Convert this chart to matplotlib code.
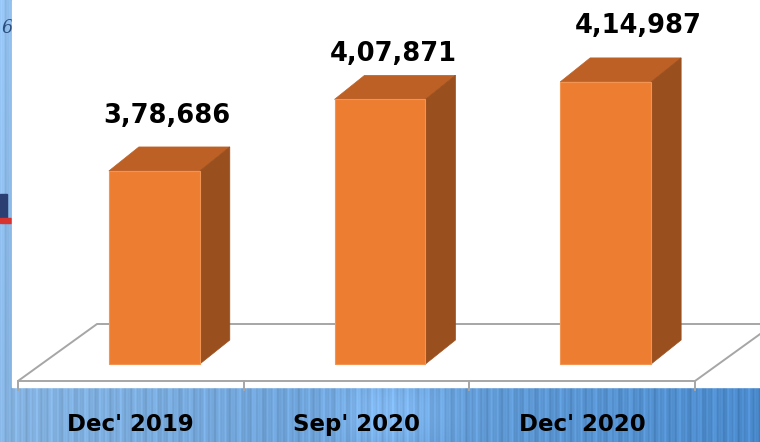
import numpy as np
import matplotlib
matplotlib.use("Agg")
import matplotlib.pyplot as plt
from matplotlib.patches import Polygon, Rectangle

# ---- data -------------------------------------------------------------
categories = ["Dec' 2019", "Sep' 2020", "Dec' 2020"]
values = [378686, 407871, 414987]
value_labels = ["3,78,686", "4,07,871", "4,14,987"]
axis_floor = 300000

# ---- figure / style ---------------------------------------------------
W, H = 760, 442
DPI = 100
fig = plt.figure(figsize=(W / DPI, H / DPI), dpi=DPI)

FONT = "DejaVu Sans"
FRONT = "#ED7D31"
TOP = "#BC6026"
SIDE = "#9A4F1E"
GRID = "#A6A6A6"

# slide background: blue with vertical streaks and a soft glow
bg = fig.add_axes([0, 0, 1, 1], zorder=0)
bg.set_xlim(0, W)
bg.set_ylim(H, 0)
bg.axis("off")
xx, yy = np.meshgrid(np.arange(W), np.arange(H))
t = xx / W
streak = (0.035 * np.sin(xx * 0.9) + 0.025 * np.sin(xx * 0.37 + 1.3)
          + 0.02 * np.sin(xx * 2.1 + 0.4))
base_l = np.array([0.52, 0.70, 0.88])
base_r = np.array([0.29, 0.54, 0.80])
img = base_l[None, None, :] * (1 - t[..., None]) + base_r[None, None, :] * t[..., None]
img = img + streak[..., None] * np.array([0.6, 0.8, 1.0])
glow = np.exp(-(((xx - 390) / 55.0) ** 2 + ((yy - 412) / 40.0) ** 2))
img = img + 0.10 * glow[..., None]
img = img + 0.06 * (1 - yy / H)[..., None]
bg.imshow(np.clip(img, 0, 1), extent=(0, W, H, 0), aspect="auto", zorder=0)
bg.text(1, 33, "6", fontsize=13, fontstyle="italic", family="DejaVu Serif",
        color="#2A4E80", zorder=1)
bg.add_patch(Rectangle((0, 194), 7, 24, color="#2B3F73", zorder=1))
bg.add_patch(Rectangle((0, 218), 11, 5, color="#D8332F", zorder=1))
bg.add_patch(Rectangle((12, 0), W - 12, 387, color="white", zorder=2))

# ---- chart axes (floor front plane) -----------------------------------
ax_left, ax_right, ax_base = 18, 695, 381
ax = fig.add_axes([ax_left / W, (H - ax_base) / H, (ax_right - ax_left) / W, ax_base / H],
                  zorder=1)
ax.patch.set_alpha(0)
ax.axis("off")
n = len(categories)
ax.set_xlim(-0.5, n - 0.5)
ax.set_ylim(axis_floor, 455300)

x_per_px = n / (ax_right - ax_left)
y_per_px = (455300 - axis_floor) / ax_base


def dx(px):
    return px * x_per_px


def dy(px):
    return px * y_per_px


# floor
floor_depth = (79, 57)
fx0, fx1 = -0.5, n - 0.5
floor = Polygon([(fx0, axis_floor), (fx1, axis_floor),
                 (fx1 + dx(floor_depth[0]), axis_floor + dy(floor_depth[1])),
                 (fx0 + dx(floor_depth[0]), axis_floor + dy(floor_depth[1]))],
                closed=True, facecolor="white", edgecolor=GRID, linewidth=1.4,
                clip_on=False, zorder=1)
ax.add_patch(floor)
for b in np.arange(n + 1) - 0.5:
    ax.plot([b, b], [axis_floor, axis_floor - dy(9)], color=GRID, lw=1.4,
            clip_on=False, zorder=1)

# bars (front face via ax.bar, top and side as extruded faces)
bar_w = 0.403
shift = (23.5, 17)
depth = (30, 24)
xs = np.arange(n) + dx(shift[0])
heights = np.array(values) - axis_floor
bottom = axis_floor + dy(shift[1])
ax.bar(xs, heights, width=bar_w, bottom=bottom, color=FRONT,
       edgecolor="#F29552", linewidth=0.8, zorder=4, clip_on=False)
for x, h in zip(xs, heights):
    l, r = x - bar_w / 2, x + bar_w / 2
    top = bottom + h
    ddx, ddy = dx(depth[0]), dy(depth[1])
    ax.add_patch(Polygon([(l, top), (r, top), (r + ddx, top + ddy), (l + ddx, top + ddy)],
                         closed=True, facecolor=TOP, edgecolor=TOP, lw=0.5,
                         zorder=3, clip_on=False))
    ax.add_patch(Polygon([(r, top), (r + ddx, top + ddy), (r + ddx, bottom + ddy),
                          (r, bottom)],
                         closed=True, facecolor=SIDE, edgecolor=SIDE, lw=0.5,
                         zorder=3, clip_on=False))

# value labels above bars (pixel offsets from the bar's anchor)
label_offsets = [(36, 65), (36.5, 55.5), (56.5, 66)]
for i, (v, txt) in enumerate(zip(values, value_labels)):
    ox, oy = label_offsets[i]
    ax.annotate(txt, (i, v), xytext=(ox * 0.72, oy * 0.72), textcoords="offset points",
                ha="center", va="baseline", fontsize=18.5, fontweight="bold",
                family=FONT, color="black", zorder=6, annotation_clip=False)

# category labels
for i, c in enumerate(categories):
    ax.annotate(c, (i, axis_floor), xytext=(0, -50 * 0.72), textcoords="offset points",
                ha="center", va="baseline", fontsize=16.5, fontweight="bold",
                family=FONT, color="black", zorder=6, annotation_clip=False)

fig.savefig("out.png", dpi=DPI)
